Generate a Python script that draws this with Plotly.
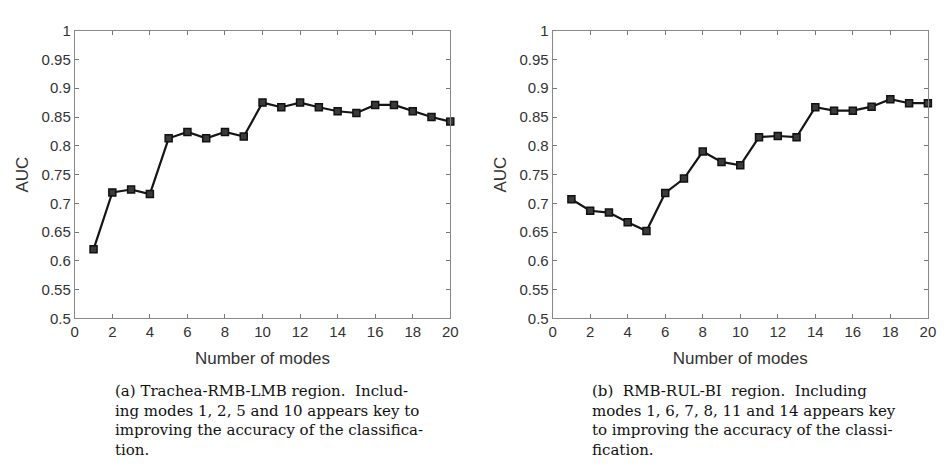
import plotly.graph_objects as go

# AUC against number of shape modes, two airway regions
modes = list(range(1, 21))
auc_trachea = [0.620, 0.719, 0.724, 0.716, 0.813, 0.824, 0.813, 0.824, 0.816, 0.875,
               0.867, 0.875, 0.867, 0.860, 0.857, 0.871, 0.871, 0.860, 0.850, 0.842]
auc_rmb = [0.707, 0.687, 0.684, 0.667, 0.652, 0.718, 0.743, 0.790, 0.772, 0.766,
           0.815, 0.817, 0.815, 0.867, 0.861, 0.861, 0.868, 0.881, 0.874, 0.874]

x_ticks = list(range(0, 21, 2))
y_ticks = [0.5, 0.55, 0.6, 0.65, 0.7, 0.75, 0.8, 0.85, 0.9, 0.95, 1.0]
y_tick_text = ["0.5", "0.55", "0.6", "0.65", "0.7", "0.75", "0.8", "0.85", "0.9", "0.95", "1"]

caption_a = ["(a) Trachea-RMB-LMB region.  Includ-",
             "ing modes 1, 2, 5 and 10 appears key to",
             "improving the accuracy of the classifica-",
             "tion."]
caption_b = ["(b)  RMB-RUL-BI  region.  Including",
             "modes 1, 6, 7, 8, 11 and 14 appears key",
             "to improving the accuracy of the classi-",
             "fication."]

W, H = 947, 471
tick_font = dict(family="Liberation Sans, Arial", size=15, color="#333333")
title_font = dict(family="Liberation Sans, Arial", size=17, color="#333333")
serif = dict(family="DejaVu Serif, serif", size=15, color="#111111")

fig = go.Figure()
for i, series in enumerate([auc_trachea, auc_rmb]):
    fig.add_trace(go.Scatter(
        x=modes, y=series, mode="lines+markers",
        xaxis="x" if i == 0 else "x2", yaxis="y" if i == 0 else "y2",
        line=dict(color="#151515", width=2.2),
        marker=dict(symbol="square", size=7, color="#3a3a3a",
                    line=dict(color="#111111", width=1.5)),
        showlegend=False, cliponaxis=False,
    ))

def xaxis(domain, anchor):
    return dict(domain=domain, anchor=anchor, range=[0, 20], tickvals=x_ticks,
                ticks="inside", ticklen=4, tickcolor="#777777", showline=True,
                linecolor="#888888", linewidth=1, mirror="allticks", showgrid=False,
                zeroline=False, tickfont=tick_font,
                title=dict(text="Number of modes", font=title_font, standoff=12))

def yaxis(anchor):
    return dict(domain=[0.3185, 0.9522], anchor=anchor, range=[0.5, 1.0],
                tickvals=y_ticks, ticktext=y_tick_text, ticks="inside", ticklen=4,
                tickcolor="#777777", showline=True, linecolor="#888888", linewidth=1,
                mirror="allticks", showgrid=False, zeroline=False, tickfont=tick_font,
                title=dict(text="AUC", font=title_font, standoff=8))

# each caption is a single left-aligned multi-line block under its panel
annotations = [
    dict(text="<br>".join(cap), x=x0 / W, y=1 - 427 / H, xref="paper", yref="paper",
         xanchor="left", yanchor="middle", align="left", showarrow=False, font=serif)
    for cap, x0 in [(caption_a, 110), (caption_b, 594)]
]

fig.update_layout(
    width=W, height=H, margin=dict(l=0, r=0, t=0, b=0),
    paper_bgcolor="white", plot_bgcolor="white",
    xaxis=xaxis([0.0757, 0.4773], "y"), yaxis=yaxis("x"),
    xaxis2=xaxis([0.5868, 0.9881], "y2"), yaxis2=yaxis("x2"),
    annotations=annotations,
)

fig.write_html("out.html")
